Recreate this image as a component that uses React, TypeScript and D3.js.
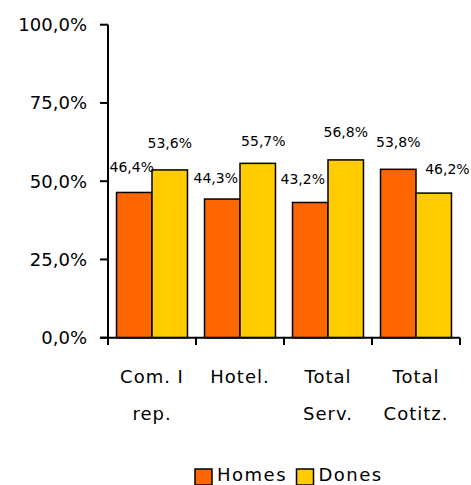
import React from "react";
import * as d3 from "d3";

const categories = [["Com. I", "rep."], ["Hotel."], ["Total", "Serv."], ["Total", "Cotitz."]];
const categoryKeys = ["Com. I rep.", "Hotel.", "Total Serv.", "Total Cotitz."];
const seriesNames = ["Homes", "Dones"];
const homes = [46.4, 44.3, 43.2, 53.8];
const dones = [53.6, 55.7, 56.8, 46.2];
const homesLabelDx = [-2.5, -6.5, -7.5, 0];
const donesLabelDx = [0, 5.6, 0, 13.7];
const homesLabelDy = [-20.5, -16, -18.5, -22.6];
const donesLabelDy = [-22, -17.7, -22.6, -18.8];
const yTicks = [0, 25, 50, 75, 100];
const colors = ["#FF6600", "#FFCC00"];

const fmt = (v: number) => v.toFixed(1).replace(".", ",") + "%";

export default function App() {
  const W = 471, H = 485;
  const x0 = d3.scaleBand<string>().domain(categoryKeys).range([108, 460]).paddingInner(0).paddingOuter(0);
  const x1 = d3.scaleBand<string>().domain(seriesNames).range([0, x0.bandwidth()]).paddingInner(0).paddingOuter(0.24);
  const y = d3.scaleLinear().domain([0, 100]).range([337.7, 24.7]);
  const series = [homes, dones];
  const dxs = [homesLabelDx, donesLabelDx];
  const dys = [homesLabelDy, donesLabelDy];
  const font = "'DejaVu Sans', Verdana, sans-serif";

  return (
    <svg width={W} height={H} style={{ position: "absolute", left: 0, top: 0, background: "#fff" }} fontFamily={font}>
      {/* bars */}
      {categoryKeys.map((c, i) => (
        <g key={c} transform={`translate(${x0(c)},0)`}>
          {seriesNames.map((s, j) => (
            <rect
              key={s}
              x={x1(s)}
              y={y(series[j][i])}
              width={x1.bandwidth()}
              height={y(0) - y(series[j][i])}
              fill={colors[j]}
              stroke="#000"
              strokeWidth={1.5}
            />
          ))}
        </g>
      ))}
      {/* data labels */}
      {categoryKeys.map((c, i) =>
        seriesNames.map((s, j) => (
          <text
            key={c + s}
            x={(x0(c) as number) + (x1(s) as number) + x1.bandwidth() / 2 + dxs[j][i]}
            y={y(series[j][i]) + dys[j][i]}
            textAnchor="middle"
            fontSize={14}
            fill="#000"
          >
            {fmt(series[j][i])}
          </text>
        ))
      )}
      {/* y axis */}
      <line x1={108} x2={108} y1={y(100)} y2={345} stroke="#000" strokeWidth={2} />
      {yTicks.map((t) => (
        <g key={t}>
          <line x1={100} x2={108} y1={y(t)} y2={y(t)} stroke="#000" strokeWidth={2} />
          <text x={87} y={y(t)} dy="0.36em" textAnchor="end" fontSize={18} fill="#000">
            {fmt(t)}
          </text>
        </g>
      ))}
      {/* x axis */}
      <line x1={100} x2={460} y1={y(0)} y2={y(0)} stroke="#000" strokeWidth={2} />
      {[...categoryKeys.map((c) => x0(c) as number), 460].map((xv, i) => (
        <line key={i} x1={xv} x2={xv} y1={y(0)} y2={345} stroke="#000" strokeWidth={2} />
      ))}
      {categoryKeys.map((c, i) => (
        <text key={c} textAnchor="middle" fontSize={18} letterSpacing={1} fill="#000">
          {categories[i].map((line, k) => (
            <tspan key={k} x={(x0(c) as number) + x0.bandwidth() / 2} y={383 + k * 37}>
              {line}
            </tspan>
          ))}
        </text>
      ))}
      {/* legend */}
      {seriesNames.map((s, j) => {
        const lx = [195, 296.5][j];
        return (
          <g key={s}>
            <rect x={lx} y={469} width={17} height={16} fill={colors[j]} stroke="#000" strokeWidth={1.5} />
            <text x={lx + 22} y={481} fontSize={18} letterSpacing={1.5} fill="#000">
              {s}
            </text>
          </g>
        );
      })}
    </svg>
  );
}
